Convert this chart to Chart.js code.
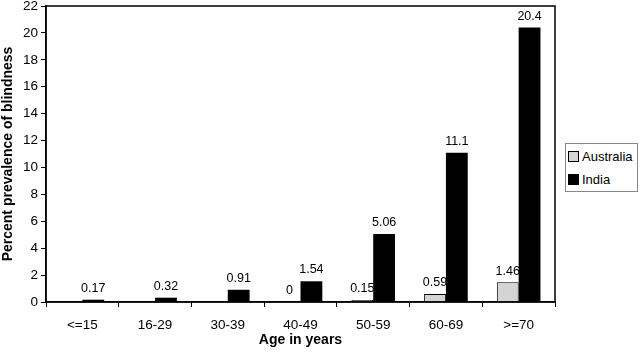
<!DOCTYPE html>
<html>
<head>
<meta charset="utf-8">
<script src="https://cdn.jsdelivr.net/npm/chart.js@4"></script>
<style>
  html, body { margin: 0; padding: 0; background: #fff; }
  #wrap { position: relative; width: 640px; height: 353px; }
  #legend {
    position: absolute; left: 565px; top: 143px; width: 73px; height: 49px;
    border: 1px solid #888; box-sizing: border-box; background: #fff;
    font: 13px "Liberation Sans", Arial, sans-serif; color: #000;
  }
  #legend div { position: absolute; left: 2px; height: 14px; line-height: 14px; white-space: nowrap; }
  #legend span { display: inline-block; width: 9px; height: 9px; border: 1px solid #000; margin-right: 3px; vertical-align: -1px; }
</style>
</head>
<body>
<div id="wrap">
  <canvas id="chart" width="640" height="353"></canvas>
  <div id="legend">
    <div style="top:6px"><span style="background:#d4d4d4"></span>Australia</div>
    <div style="top:29px"><span style="background:#000"></span>India</div>
  </div>
</div>
<script>
const ageGroups = ["<=15", "16-29", "30-39", "40-49", "50-59", "60-69", ">=70"];
const australia = [null, null, null, 0, 0.15, 0.59, 1.46];
const india = [0.17, 0.32, 0.91, 1.54, 5.06, 11.1, 20.4];
const yTicks = [0, 2, 4, 6, 8, 10, 12, 14, 16, 18, 20, 22];

const FONT = "'Liberation Sans', Arial, sans-serif";

// value labels above every bar that has data
const valueLabels = {
  id: "valueLabels",
  afterDatasetsDraw(chart)
  {
    const ctx = chart.ctx;
    ctx.save();
    ctx.font = "12.5px " + FONT;
    ctx.fillStyle = "#000";
    ctx.textAlign = "center";
    ctx.textBaseline = "bottom";
    chart.data.datasets.forEach((ds, i) => {
      const meta = chart.getDatasetMeta(i);
      meta.data.forEach((bar, j) => {
        const v = ds.data[j];
        if (v === null || v === undefined)
          return;
        ctx.fillText(String(v), bar.x, bar.y - 5);
      });
    });
    ctx.restore();
  }
};

// box round the plot area
const plotBorder = {
  id: "plotBorder",
  afterDraw(chart)
  {
    const a = chart.chartArea;
    const ctx = chart.ctx;
    ctx.save();
    ctx.strokeStyle = "#000";
    ctx.lineWidth = 1.5;
    ctx.strokeRect(a.left, a.top, a.right - a.left, a.bottom - a.top);
    ctx.restore();
  }
};

new Chart(document.getElementById("chart"), {
  type: "bar",
  data: {
    labels: ageGroups,
    datasets: [
      {
        label: "Australia",
        data: australia,
        backgroundColor: "#d4d4d4",
        borderColor: "#000",
        borderWidth: 1,
        borderSkipped: "bottom",
      },
      {
        label: "India",
        data: india,
        backgroundColor: "#000",
        borderColor: "#000",
        borderWidth: 0,
      },
    ],
  },
  options: {
    responsive: false,
    animation: false,
    devicePixelRatio: 1,
    layout: { padding: { top: 0, right: 85, left: 0, bottom: 0 } },
    datasets: { bar: { categoryPercentage: 0.6, barPercentage: 1.0 } },
    plugins: {
      legend: { display: false },
      tooltip: { enabled: false },
    },
    scales: {
      x: {
        grid: { display: true, drawOnChartArea: false, drawTicks: true, tickLength: 5, offset: true, color: "#000" },
        border: { display: true, color: "#000", width: 1.5 },
        ticks: { color: "#000", font: { family: FONT, size: 13.5 }, padding: 10 },
        title: { display: true, text: "Age in years", color: "#000", font: { family: FONT, size: 14, weight: "bold" }, padding: { top: 4 } },
        afterFit(scale) { scale.height = 51; },
      },
      y: {
        min: 0,
        max: 22,
        afterBuildTicks(scale) { scale.ticks = yTicks.map(v => ({ value: v })); },
        grid: { display: true, drawOnChartArea: false, drawTicks: true, tickLength: 5, color: "#000" },
        border: { display: true, color: "#000", width: 1.5 },
        ticks: { color: "#000", font: { family: FONT, size: 13.5 }, padding: 3 },
        title: { display: true, text: "Percent prevalence of blindness", color: "#000", font: { family: FONT, size: 14, weight: "bold" }, padding: 0 },
        afterFit(scale) { scale.width = 46; scale.paddingTop = 6; },
      },
    },
  },
  plugins: [valueLabels, plotBorder],
});
</script>
</body>
</html>
